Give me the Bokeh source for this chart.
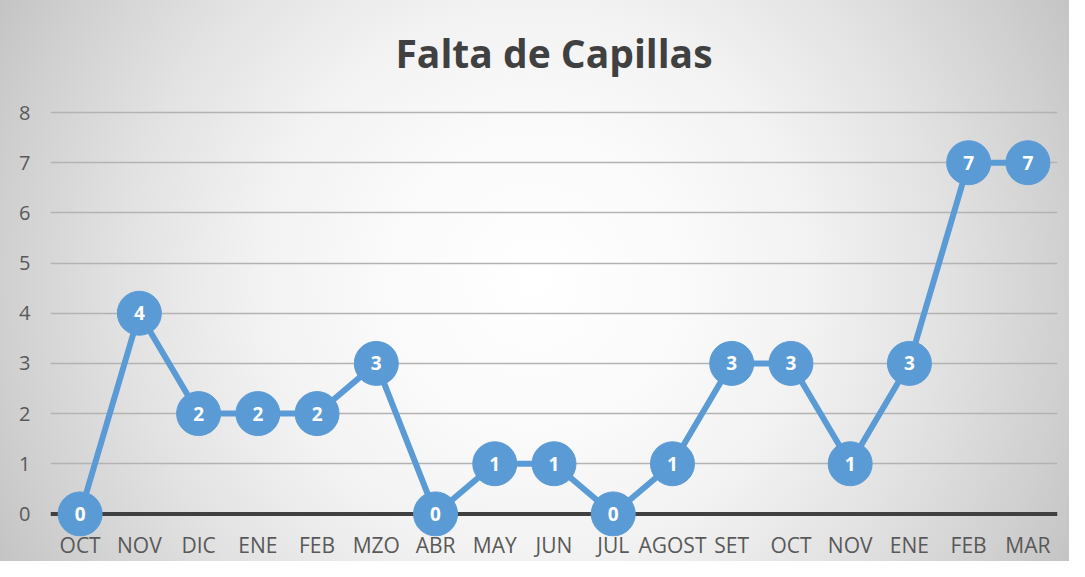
from bokeh.plotting import figure
from bokeh.models import ColumnDataSource, FixedTicker, Span
from bokeh.core.properties import value
from bokeh.embed import file_html
from bokeh.resources import INLINE

# ---- data ----
months = ["OCT", "NOV", "DIC", "ENE", "FEB", "MZO", "ABR", "MAY", "JUN",
          "JUL", "AGOST", "SET", "OCT", "NOV", "ENE", "FEB", "MAR"]
counts = [0, 4, 2, 2, 2, 3, 0, 1, 1, 0, 1, 3, 3, 1, 3, 7, 7]
y_ticks = [0, 1, 2, 3, 4, 5, 6, 7, 8]
title_text = "Falta de Capillas"

xs = list(range(len(months)))
src = ColumnDataSource(dict(x=xs, y=counts, lbl=[str(c) for c in counts]))

FONT = "Open Sans"
BLUE = "#5B9BD5"

p = figure(width=1069, height=561, output_backend="svg", toolbar_location=None,
           x_range=(-0.5, len(months) - 0.5), y_range=(-0.45, 8.3),
           min_border_left=50, min_border_right=12, min_border_top=97,
           min_border_bottom=25, title=title_text)

p.border_fill_color = None
p.background_fill_color = None
p.outline_line_color = None
p.styles = {"background": "radial-gradient(circle farthest-corner at 50% 50%, "
            "#ffffff 0%, #fafafa 25%, #f2f2f2 46%, #e2e2e2 68%, #d0d0d0 88%, #c4c4c4 100%)"}

# title
p.title.text_font = FONT
p.title.text_font_size = "39px"
p.title.text_font_style = "bold"
p.title.text_color = "#404040"
p.title.align = "center"
p.title.standoff = 37

# axes
p.xaxis.ticker = FixedTicker(ticks=xs)
p.xaxis.major_label_overrides = {i: m for i, m in enumerate(months)}
p.yaxis.ticker = FixedTicker(ticks=y_ticks)
for ax in (p.xaxis[0], p.yaxis[0]):
    ax.axis_line_color = None
    ax.major_tick_line_color = None
    ax.minor_tick_line_color = None
    ax.major_tick_out = 0
    ax.major_tick_in = 0
    ax.major_label_text_font = FONT
    ax.major_label_text_color = "#595959"
p.xaxis.major_label_text_font_size = "21px"
p.yaxis.major_label_text_font_size = "20px"
p.xaxis.major_label_standoff = -6
p.yaxis.major_label_standoff = 20

p.xgrid.grid_line_color = None
p.ygrid.ticker = FixedTicker(ticks=y_ticks[1:])
p.ygrid.grid_line_color = "#b3b3b3"
p.ygrid.grid_line_width = 1.5

zero = Span(location=0, dimension="width", line_color="#404040", line_width=4,
            level="underlay")
p.add_layout(zero)

p.line("x", "y", source=src, line_color=BLUE, line_width=6)
p.scatter("x", "y", source=src, size=44, fill_color=BLUE, line_color=BLUE)
p.text("x", "y", text="lbl", source=src, text_color="white",
       text_font=value(FONT), text_font_style="bold", text_font_size="19px",
       text_align="center", text_baseline="middle")

open("out.html", "w").write(file_html(p, INLINE))
